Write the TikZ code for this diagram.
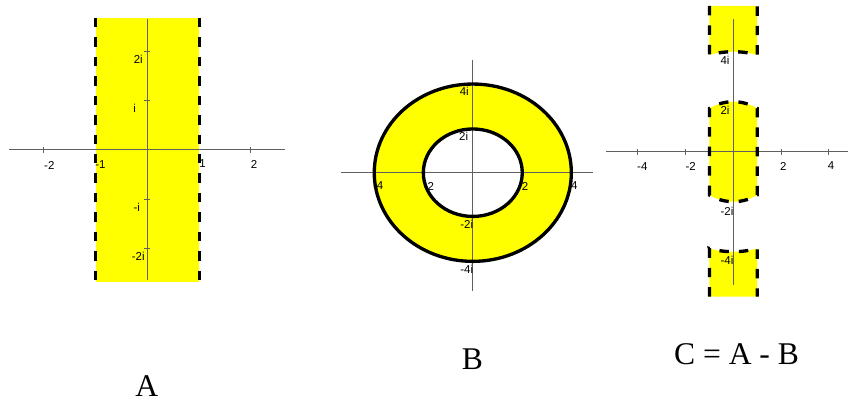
\documentclass[tikz,border=0pt]{standalone}
\usepackage{fontspec}
\setmainfont{Liberation Serif}
\newfontfamily\axfont{Liberation Sans}
\definecolor{fillyel}{HTML}{FFFF00}
\definecolor{axgray}{HTML}{606060}
\begin{document}
\begin{tikzpicture}[x=0.75pt,y=-0.75pt,
  axis/.style={draw=axgray, line width=0.75pt},
  openedge/.style={draw=black, line width=2.5pt, dash pattern=on 7.1pt off 7.5pt},
  closededge/.style={draw=black, line width=2.5pt},
  ticklab/.style={font=\axfont\fontsize{8.6}{10}\selectfont, inner sep=0pt, text=black},
  caption/.style={font=\fontsize{23.7}{28}\selectfont, inner sep=0pt, anchor=base}]
\useasboundingbox (0,0) rectangle (848,403);

% ---------------- Panel A ----------------
\fill[fillyel] (95.7,17.7) rectangle (199.3,281.7);
\draw[axis] (9,149.7) -- (285,149.7);
\draw[axis] (147.3,19.3) -- (147.3,280);
\foreach \tx in {43.7,250.7} \draw[axis] (\tx,146.7) -- (\tx,152.7);
\foreach \ty in {51.3,100.3,199,248.3} \draw[axis] (144.3,\ty) -- (150.3,\ty);
\node[ticklab] (am2) at (49.3,165) {-2};
\node[ticklab] (am1) at (100.5,164.3) {-1};
\node[ticklab] (ap1) at (202.5,164) {1};
\node[ticklab] (ap2) at (254,164) {2};
\node[ticklab] (a2i) at (138.3,59) {2i};
\node[ticklab] (a1i) at (134.7,108.3) {i};
\node[ticklab] (am1i) at (136.7,207.3) {-i};
\node[ticklab] (am2i) at (138.3,256.7) {-2i};
\draw[openedge] (95.7,17.7) -- (95.7,281.7);
\draw[openedge] (199.3,17.7) -- (199.3,281.7);
\node[caption] (capA) at (146.7,396) {A};

% ---------------- Panel B ----------------
\fill[fillyel, even odd rule]
  (472.8,172.7) ellipse [x radius=73.9pt, y radius=66.5pt]
  (472.8,172.7) ellipse [x radius=37.1pt, y radius=32.8pt];
\draw[axis] (341,172.3) -- (593,172.3);
\draw[axis] (472.7,60) -- (472.7,291);
\node[ticklab] (b4i) at (464.3,91.7) {4i};
\node[ticklab] (b2i) at (463.7,136) {2i};
\node[ticklab] (bm2i) at (466.7,224.3) {-2i};
\node[ticklab] (bm4i) at (466.7,269.3) {-4i};
\node[ticklab] (bm4) at (378.1,186) {-4};
\node[ticklab] (bm2) at (428.8,186) {-2};
\node[ticklab] (bp2) at (525,186) {2};
\node[ticklab] (bp4) at (574.3,186) {4};
\draw[closededge] (472.8,172.7) ellipse [x radius=73.9pt, y radius=66.5pt];
\draw[closededge] (472.8,172.7) ellipse [x radius=37.1pt, y radius=32.8pt];
\node[caption] (capB) at (472.3,369.3) {B};

% ---------------- Panel C ----------------
\begin{scope}[shift={(549.975pt,-113.775pt)}, x=17.89pt, y=18.75pt]
  \fill[fillyel] (-1,5.828) -- (-1,3.873)
     -- plot[domain=104.48:75.52, samples=25] ({4*cos(\x)},{4*sin(\x)})
     -- (1,5.828) -- cycle;
  \fill[fillyel] (-1,-1.732) -- (-1,1.732)
     -- plot[domain=120:60, samples=25] ({2*cos(\x)},{2*sin(\x)})
     -- (1,-1.732)
     -- plot[domain=-60:-120, samples=25] ({2*cos(\x)},{2*sin(\x)})
     -- cycle;
  \fill[fillyel] (-1,-5.8) -- (-1,-3.873)
     -- plot[domain=-104.48:-75.52, samples=25] ({4*cos(\x)},{4*sin(\x)})
     -- (1,-5.8) -- cycle;
\end{scope}
\draw[axis] (606,151.7) -- (848,151.7);
\draw[axis] (733.3,19.3) -- (733.3,285);
\foreach \tx in {637.9,685.6,781,828.7} \draw[axis] (\tx,148.7) -- (\tx,154.7);
\node[ticklab] (cm4) at (642.3,166.7) {-4};
\node[ticklab] (cm2) at (690.7,166.7) {-2};
\node[ticklab] (cp2) at (783.3,166.7) {2};
\node[ticklab] (cp4) at (831,165.7) {4};
\node[ticklab] (c4i) at (725,60.7) {4i};
\node[ticklab] (c2i) at (725,110) {2i};
\node[ticklab] (cm2i) at (727,211) {-2i};
\node[ticklab] (cm4i) at (727,260) {-4i};
\begin{scope}[shift={(549.975pt,-113.775pt)}, x=17.89pt, y=18.75pt]
  \draw[openedge] (-1,5.828) -- (-1,3.873)
     -- plot[domain=104.48:75.52, samples=25] ({4*cos(\x)},{4*sin(\x)})
     -- (1,5.828);
  \draw[openedge] (-1,-1.732) -- (-1,1.732)
     -- plot[domain=120:60, samples=25] ({2*cos(\x)},{2*sin(\x)})
     -- (1,-1.732)
     -- plot[domain=-60:-120, samples=25] ({2*cos(\x)},{2*sin(\x)})
     -- cycle;
  \draw[openedge] (-1,-5.8) -- (-1,-3.873)
     -- plot[domain=-104.48:-75.52, samples=25] ({4*cos(\x)},{4*sin(\x)})
     -- (1,-5.8);
\end{scope}
\node[caption] (capC) at (736.5,364.3) {C = A - B};
\end{tikzpicture}
\end{document}
